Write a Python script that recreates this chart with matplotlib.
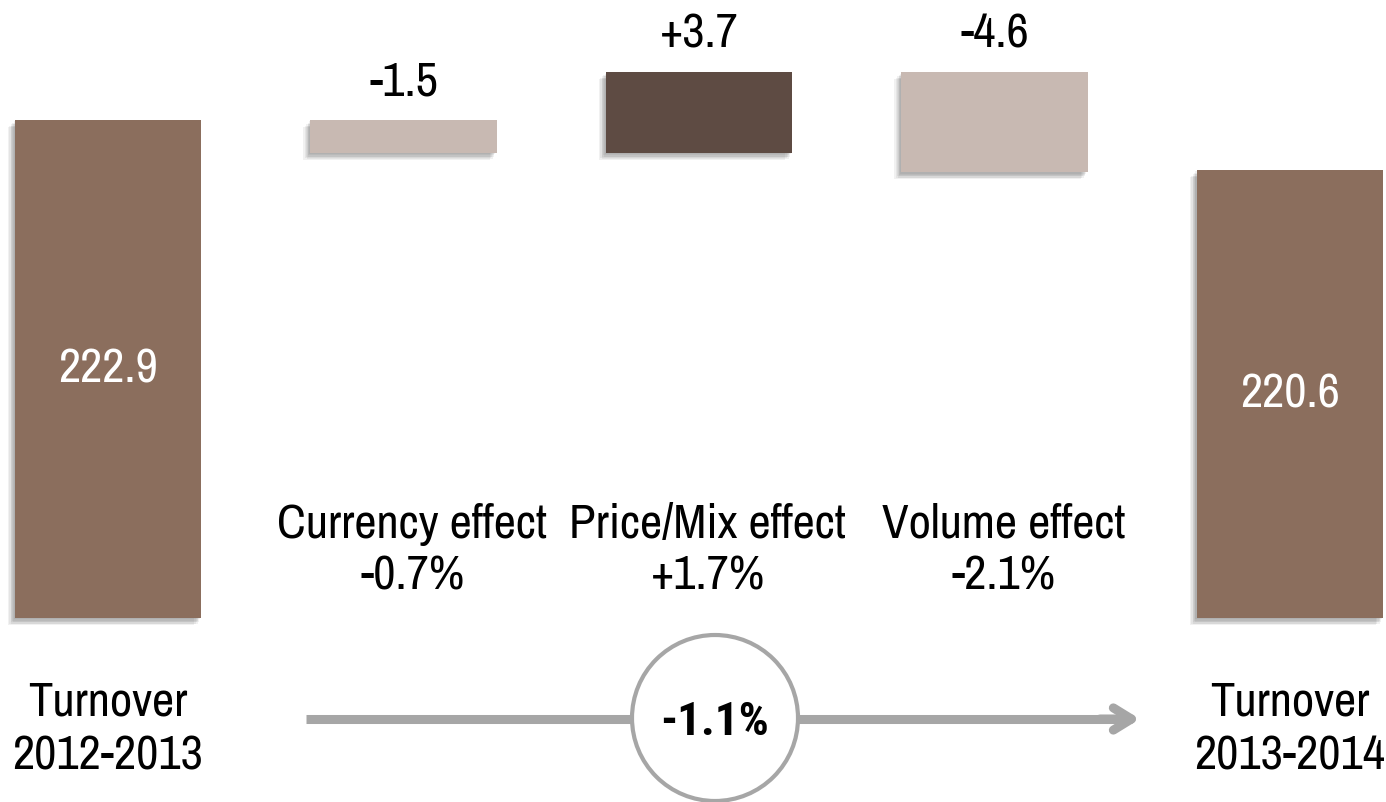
import matplotlib
matplotlib.use('Agg')
import matplotlib.pyplot as plt
import matplotlib.patches as mpatches
import matplotlib.patheffects as pe

plt.rcParams['font.family'] = ['Archivo Narrow', 'Roboto Condensed', 'Liberation Sans', 'DejaVu Sans']

# turnover bridge, in millions
start_label = 'Turnover\n2012-2013'
end_label = 'Turnover\n2013-2014'
start_total = 222.9
end_total = 220.6
effect_names = ['Currency effect', 'Price/Mix effect', 'Volume effect']
effect_values = [-1.5, 3.7, -4.6]
effect_pct = [-0.7, 1.7, -2.1]
total_pct = -1.1
axis_base = 200.0

TOTAL_COLOR = '#8B6E5D'
UP_COLOR = '#5E4B43'
DOWN_COLOR = '#C8B9B2'
GREY = '#A6A6A6'
FS = 35

fig = plt.figure(figsize=(13.86, 8.02), dpi=100)
ax = fig.add_axes([0, 0, 1, 1])
ax.set_xlim(-0.3655, 4.325)
ax.set_ylim(191.54, 228.42)
ax.axis('off')

# soft drop shadow built from a few stacked offsets
shadow = [pe.SimplePatchShadow(offset=(dx, dy), shadow_rgbFace='#404040', alpha=0.07)
          for dx, dy in [(-1, -1), (-2, -2), (-3, -3), (-4, -4), (-1.5, -3), (-2.5, -4.5), (-5, -5)]]
shadow.append(pe.Normal())

# totals
tot_bars = ax.bar([0, 4], [start_total - axis_base, end_total - axis_base], bottom=axis_base,
                  width=0.63, color=TOTAL_COLOR, zorder=2)
for b, v in zip(tot_bars, [start_total, end_total]):
    b.set_path_effects(shadow)
    ax.text(b.get_x() + b.get_width() / 2, axis_base + (v - axis_base) / 2, f'{v:.1f}',
            ha='center', va='center', color='white', fontsize=FS)

# effects
running = start_total
for i, d in enumerate(effect_values):
    lo = min(running, running + d)
    b = ax.bar(i + 1, abs(d), bottom=lo, width=0.63,
               color=UP_COLOR if d > 0 else DOWN_COLOR, zorder=2)[0]
    b.set_path_effects(shadow)
    ax.annotate(f'{d:+.1f}', (i + 1, lo + abs(d)), xytext=(0, 18), textcoords='offset points',
                ha='center', va='baseline', fontsize=FS)
    running += d

# effect names with growth rates
tr = ax.get_xaxis_transform()
for i, (name, p) in enumerate(zip(effect_names, effect_pct)):
    x = i + 1 + 0.03
    ax.text(x, 1 - 538 / 802, name, transform=tr, ha='center', va='baseline', fontsize=FS)
    ax.text(x, 1 - 589 / 802, f'{p:+.1f}%', transform=tr, ha='center', va='baseline', fontsize=FS)

for x, lab in [(0, start_label), (4, end_label)]:
    l1, l2 = lab.split('\n')
    ax.text(x, 1 - 715 / 802, l1, transform=tr, ha='center', va='baseline', fontsize=FS)
    ax.text(x, 1 - 770 / 802, l2, transform=tr, ha='center', va='baseline', fontsize=FS)

# overall change arrow with circle
ya = 1 - 719 / 802
ax.plot([306 / 1386, 1132 / 1386], [ya, ya], transform=ax.transAxes, color=GREY, lw=6.5,
        solid_capstyle='butt', zorder=3)
ax.annotate('', xy=(1140 / 1386, ya), xytext=(1100 / 1386, ya),
            xycoords='axes fraction', textcoords='axes fraction',
            arrowprops=dict(arrowstyle='->,head_length=1.3,head_width=0.8', color=GREY, lw=6.5,
                            shrinkA=0, shrinkB=0, capstyle='round', joinstyle='round'))
circ = mpatches.Ellipse((715 / 1386, 1 - 718 / 802), 166 / 1386, 166 / 802,
                        transform=ax.transAxes, facecolor='white', edgecolor=GREY, lw=3, zorder=4)
ax.add_patch(circ)
ax.text(715 / 1386, 1 - 735 / 802, f'{total_pct:+.1f}%', transform=ax.transAxes,
        ha='center', va='baseline', fontsize=34, fontweight='bold', zorder=5,
        family=['Roboto Condensed', 'Liberation Sans', 'DejaVu Sans'])

fig.savefig('out.png', dpi=100)
